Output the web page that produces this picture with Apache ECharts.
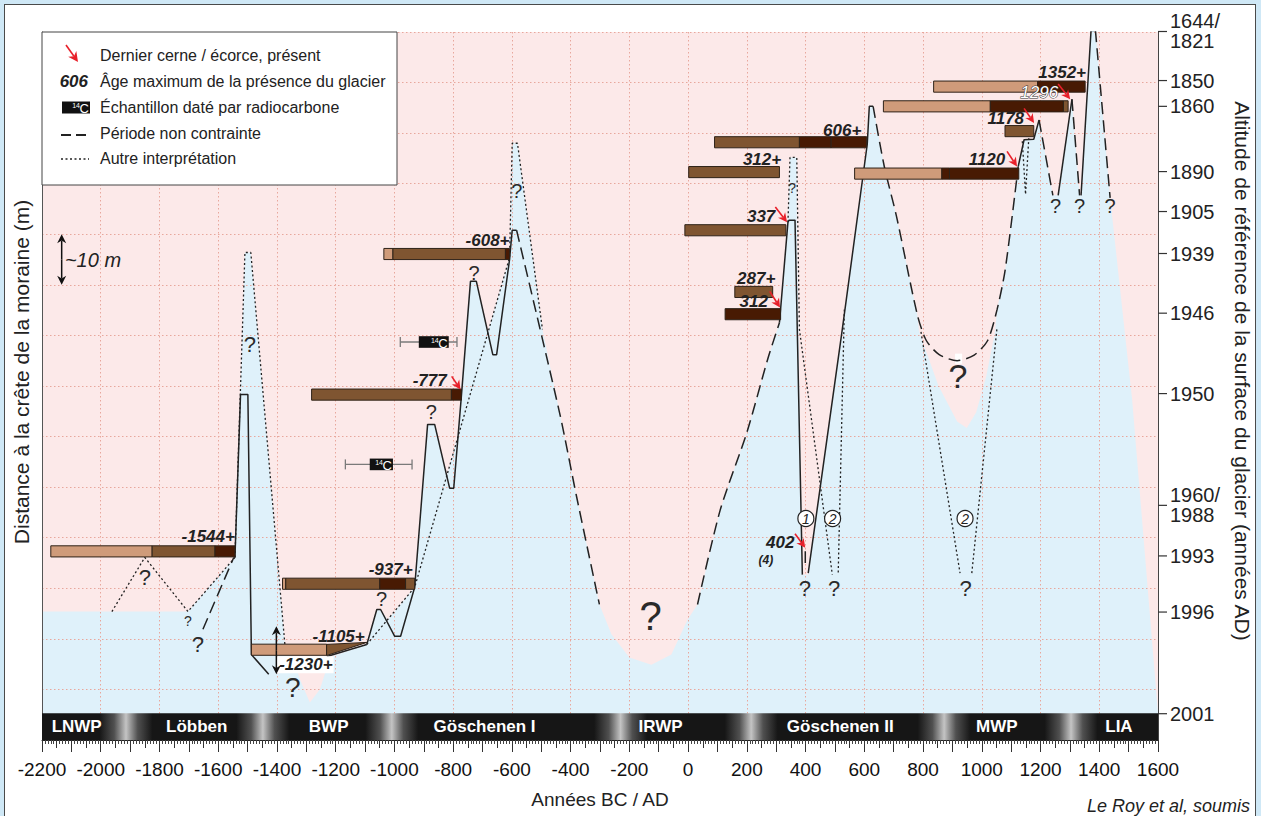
<!DOCTYPE html>
<html lang="fr">
<head>
<meta charset="utf-8">
<title>Fluctuations du glacier</title>
<script src="https://cdn.jsdelivr.net/npm/echarts@6/dist/echarts.min.js"></script>
<style>
  html, body { margin: 0; padding: 0; background: #cfe8f6; }
  #frame { position: absolute; left: 4px; top: 4px; width: 1252px; height: 830px; background: #fff; border: 1px solid #4a4a4a; box-sizing: border-box; }
  #chart { position: absolute; left: 0; top: 0; width: 1261px; height: 816px; }
</style>
</head>
<body>
<div id="frame"></div>
<div id="chart"></div>
<script>
// x = années BC/AD, y = mètres (distance relative à la crête de la moraine)

// bord supérieur de l'extension du glacier (zone bleue)
const extentEdge = [[-2200, 15.4], [-1962, 15.4], [-1703, 15.4], [-1543, 26.1], [-1509, 86.4], [-1489, 86.4],
  [-1373, 8.9], [-1346, 6.5], [-1322, 2.0], [-1288, -2.6], [-1254, 0], [-1227, 4.9], [-1213, 6.5], [-1094, 8.9],
  [-1060, 15.8], [-1047, 15.8], [-1023, 13.8], [-931, 20.2], [-887, 52.4], [-863, 52.4], [-822, 42.1], [-785, 50.0],
  [-774, 58.0], [-743, 80.7], [-721, 80.7], [-683, 70.4], [-608, 85.4], [-599, 108], [-581, 108], [-496, 71.2],
  [-438, 54.8], [-380, 38.2], [-302, 16.8], [-261, 10.9], [-200, 6.3], [-125, 4.9], [-57, 6.9], [-2, 13.8], [32, 16.8],
  [109, 35.4], [200, 50.8], [272, 65.5], [311, 72.5], [340, 92.4], [347, 105.2], [370, 105.2], [370, 92.7], [389, 22.7],
  [409, 22.7], [525, 71.2], [610, 107.8], [617, 115.3], [630, 115.3], [668, 103.4], [709, 93.7], [780, 74.2], [787, 70.7],
  [852, 60.1], [916, 53.0], [949, 51.7], [981, 54.8], [1015, 61.9], [1045, 70.7], [1052, 75.1], [1080, 83.1], [1124, 103.4],
  [1144, 108.7], [1177, 108.8], [1195, 112.6], [1242, 97.7], [1260, 97.7], [1307, 116.7], [1333, 97.7], [1338, 97.7],
  [1372, 130.3], [1387, 130.3], [1437, 97.2], [1512, 57.3], [1600, -4.7]];

const solidLines = [
  [[-1543, 26.1], [-1524, 58.3], [-1499, 58.3], [-1487, 6.9], [-1428, 3.0]],
  [[-1094, 8.9], [-1060, 15.8], [-1047, 15.8], [-999, 10.5], [-979, 10.5], [-931, 20.2], [-887, 52.4], [-863, 52.4],
    [-812, 39.8], [-798, 39.8], [-772, 58.0], [-741, 80.7], [-721, 80.7], [-665, 66.2], [-652, 66.2], [-608, 85.0],
    [-599, 90.8], [-584, 90.8]],
  [[-1230, 6.5], [-1094, 8.9]],
  [[311, 72.5], [340, 92.4], [344, 92.8], [364, 92.8], [389, 22.7]],
  [[399, 27.3], [399, 25.0]],
  [[409, 23.0], [525, 71.2], [610, 107.8], [617, 115.3], [630, 115.3]],
  [[1124, 103.4], [1144, 108.7], [1177, 108.8], [1195, 112.6]],
  [[1260, 97.7], [1307, 116.7]],
  [[1338, 97.7], [1372, 130.3], [1387, 130.3]]
];

const dashedLines = [
  [[-1652, 11.9], [-1547, 26.1]],
  [[-584, 90.8], [-438, 54.8], [-380, 38.2], [-302, 16.8]],
  [[32, 16.8], [109, 35.4], [200, 50.8], [272, 65.5], [311, 72.5]],
  [[630, 115.3], [668, 103.4], [709, 93.7], [780, 74.2], [811, 69.0], [855, 66.2], [916, 65.0], [974, 66.1],
    [1020, 69.0], [1052, 75.1], [1080, 83.1], [1124, 103.4]],
  [[1195, 112.6], [1242, 97.7]],
  [[1307, 116.7], [1333, 97.7]],
  [[1387, 130.3], [1437, 97.2]]
];

const dottedLines = [
  [[-1962, 15.4], [-1850, 26.1], [-1703, 15.4], [-1543, 26.1]],
  [[-1543, 26.1], [-1509, 86.4], [-1489, 86.4], [-1373, 8.9]],
  [[-1094, 8.9], [-931, 20.2], [-608, 85.4], [-599, 108], [-581, 108], [-496, 71.2]],
  [[340, 92.4], [347, 105.2], [370, 105.2], [379, 71.2], [491, 22.7]],
  [[532, 75.1], [511, 22.7]],
  [[793, 70.7], [926, 23.0]],
  [[966, 23.0], [1052, 71.6]],
  [[1138, 108.4], [1149, 97.9], [1160, 109.0]]
];

// échantillons dendro : [niveau, [[début, fin, teinte], ...]]  teinte 0 clair, 1 moyen, 2 foncé
const sampleBars = [
  [27.3, [[-2170, -1825, 0], [-1825, -1611, 1], [-1611, -1543, 2]]],
  [7.85, [[-1487, -1231, 0]]],
  [20.9, [[-1381, -1370, 0], [-1370, -1050, 1], [-1050, -962, 2], [-962, -931, 1]]],
  [58.3, [[-1282, -806, 1], [-806, -772, 2]]],
  [86.1, [[-1036, -1005, 0], [-1005, -622, 1], [-622, -608, 2]]],
  [108.2, [[90, 379, 1], [379, 487, 2], [487, 608, 2]]],
  [102.3, [[2, 311, 1]]],
  [90.8, [[-11, 333, 1]]],
  [78.6, [[159, 288, 1]]],
  [74.2, [[126, 315, 2]]],
  [119.2, [[836, 1190, 0], [1190, 1352, 2]]],
  [115.3, [[665, 1029, 0], [1029, 1278, 2], [1278, 1294, 1]]],
  [110.4, [[1079, 1177, 1]]],
  [102.0, [[567, 864, 0], [864, 890, 2], [890, 1126, 2]]]
];
const wedge = [[-1231, 8.9], [-1094, 9.3], [-1231, 6.7]];

// 14C : [boîte début, boîte fin, erreur début, erreur fin, niveau]
const radiocarbon = [[-917, -815, -980, -787, 68.7], [-1084, -1005, -1167, -940, 44.5]];

// [texte, année (bord droit), niveau, style]
const ageLabels = [
  ['-1544+', -1543, 30.3], ['-937+', -938, 23.7], ['-1105+', -1101, 10.5], ['-1230+', -1207, 4.9, 'boxed'],
  ['-777', -822, 61.1], ['-608+', -608, 88.8], ['606+', 590, 110.5], ['312+', 317, 104.7], ['337', 297, 93.5],
  ['287+', 297, 81.2], ['312', 272, 76.7], ['402', 362, 29.0], ['(4)', 290, 25.5, 'small'], ['1352+', 1355, 121.9],
  ['1296', 1260, 118.0, 'outline'], ['1178', 1144, 112.8], ['1120', 1080, 104.7]
];

// dernier cerne : [x0, y0, x1, y1]
const lastRingArrows = [[-805, 61.9, -775, 59.3], [297, 95.4, 337, 92.4], [278, 78.7, 313, 75.5], [364, 30.8, 399, 28.0],
  [1260, 119.7, 1301, 116.7], [1144, 114.9, 1178, 112.0], [1086, 106.4, 1120, 103.4]];

const questionMarks = [[-1850, 22.1, 22], [-1703, 13.5, 14], [-1669, 8.9, 22], [-1492, 68.2, 22], [-1346, 0.4, 28],
  [-1044, 17.8, 20], [-874, 54.8, 20], [-729, 82.3, 20], [-583, 98.5, 20], [-128, 14.6, 40], [354, 99.1, 14],
  [398, 20.0, 22], [497, 20.0, 22], [919, 61.9, 34], [945, 20.0, 22], [1251, 95.6, 20], [1333, 95.6, 20], [1437, 95.6, 20]];

const circledNums = [[401, 33.8, '1'], [492, 33.8, '2'], [943, 33.8, '2']];
const scaleArrows = [[-2133, 90, 80], [-1402, 12.5, 3.0]];
const scaleText = ['~10 m', -2122, 85];
const dashGap = [909, 933, 65.4];

const rightTicks = [['1644/\n1821', 130.1], ['1850', 120.4], ['1860', 115.3], ['1890', 102.4], ['1905', 94.5],
  ['1939', 86.2], ['1946', 74.4], ['1950', 58.5], ['1960/\n1988', 36.4], ['1993', 26.4], ['1996', 15.3], ['2001', -4.8]];

const periods = [['LNWP', -2082], ['Löbben', -1673], ['BWP', -1224], ['Göschenen I', -693], ['IRWP', -94],
  ['Göschenen II', 518], ['MWP', 1051], ['LIA', 1467]];
const periodEdges = [-1914, -1448, -1009, -230, 215, 872, 1304];

const X_MIN = -2200, X_MAX = 1600;
const FONT = '"Liberation Sans", Arial, Helvetica, sans-serif';
const INK = '#222';
const RED = '#e8202a';
const TONES = ['#cf9b7a', '#7f5531', '#481a03'];
const BAR_HALF = 1.1;

const chart = echarts.init(document.getElementById('chart'), null, { renderer: 'svg' });

function dart (p0, p1, color, head, half, lw) {
  const dx = p1[0] - p0[0], dy = p1[1] - p0[1];
  const L = Math.hypot(dx, dy), ux = dx / L, uy = dy / L;
  const bx = p1[0] - ux * head, by = p1[1] - uy * head;
  const nx = p1[0] - ux * head * 0.7, ny = p1[1] - uy * head * 0.7;
  return [
    { type: 'line', shape: { x1: p0[0], y1: p0[1], x2: nx, y2: ny }, style: { stroke: color, lineWidth: lw } },
    { type: 'polygon', shape: { points: [[p1[0], p1[1]], [bx - uy * half, by + ux * half], [nx, ny], [bx + uy * half, by - ux * half]] }, style: { fill: color } }
  ];
}

function lineGroup (lines, dash, width, smooth) {
  return lines.map(pts => ({
    type: 'line', data: pts, showSymbol: false, silent: true, z: 4, smooth: smooth,
    lineStyle: { color: INK, width: width, type: dash }
  }));
}

const barSegs = [];
sampleBars.forEach(([lvl, segs]) => segs.forEach(([x0, x1, tone]) => barSegs.push([x0, x1, lvl, tone])));

const series = [
  {
    type: 'line', data: extentEdge, showSymbol: false, silent: true, z: 1,
    lineStyle: { opacity: 0 },
    areaStyle: { color: '#dff1fa', opacity: 1, origin: 'start' }
  },
  {
    // bandeau des périodes climatiques
    type: 'custom', z: 3, silent: true, data: [[X_MIN, X_MAX]],
    renderItem (params, api) {
      const a = api.coord([X_MIN, -4.7]);
      const b = api.coord([X_MAX, -10]);
      const span = X_MAX - X_MIN;
      const stops = [{ offset: 0, color: '#161616' }];
      periodEdges.forEach(t => {
        [[-90, '#161616'], [-40, '#505050'], [0, '#c4c4c4'], [40, '#505050'], [90, '#161616']]
          .forEach(([d, c]) => stops.push({ offset: (t + d - X_MIN) / span, color: c }));
      });
      stops.push({ offset: 1, color: '#161616' });
      const children = [{
        type: 'rect', shape: { x: a[0], y: a[1], width: b[0] - a[0], height: b[1] - a[1] },
        style: { fill: new echarts.graphic.LinearGradient(0, 0, 1, 0, stops) }
      }];
      periods.forEach(([name, yr]) => {
        const p = api.coord([yr, -7.35]);
        children.push({ type: 'text', x: p[0], y: p[1], style: { text: name, fill: '#fff', font: 'bold 17px ' + FONT, align: 'center', verticalAlign: 'middle' } });
      });
      return { type: 'group', children };
    }
  },
  ...lineGroup(solidLines, 'solid', 1.5, false),
  ...lineGroup(dashedLines, [12, 6], 1.5, 0.25),
  ...lineGroup(dottedLines, [2, 2.5], 1.3, false),
  {
    type: 'custom', z: 4, silent: true, data: [dashGap],
    renderItem (params, api) {
      const a = api.coord([api.value(0), api.value(2) + 1]);
      const b = api.coord([api.value(1), api.value(2) - 1]);
      return { type: 'rect', shape: { x: a[0], y: a[1], width: b[0] - a[0], height: b[1] - a[1] }, style: { fill: '#fff' } };
    }
  },
  {
    type: 'custom', z: 5, silent: true, data: barSegs,
    renderItem (params, api) {
      const a = api.coord([api.value(0), api.value(2) + BAR_HALF]);
      const b = api.coord([api.value(1), api.value(2) - BAR_HALF]);
      return {
        type: 'rect', shape: { x: a[0], y: a[1], width: b[0] - a[0], height: b[1] - a[1] },
        style: { fill: TONES[api.value(3)], stroke: '#2e2218', lineWidth: 1 }
      };
    }
  },
  {
    type: 'custom', z: 5, silent: true, data: [0],
    renderItem (params, api) {
      const pts = wedge.map(p => api.coord(p));
      return { type: 'polygon', shape: { points: pts }, style: { fill: TONES[1], stroke: '#2e2218', lineWidth: 1 } };
    }
  },
  {
    type: 'custom', z: 5, silent: true, data: radiocarbon.map(d => [d[0], d[4]]),
    renderItem (params, api) {
      const [b0, b1, e0, e1, lvl] = radiocarbon[params.dataIndex];
      const a = api.coord([b0, lvl + 1.15]), b = api.coord([b1, lvl - 1.15]);
      const l = api.coord([e0, lvl]), r = api.coord([e1, lvl]);
      const cy = l[1];
      const grey = { stroke: '#7a7a7a', lineWidth: 1.3 };
      return {
        type: 'group', children: [
          { type: 'line', shape: { x1: l[0], y1: cy, x2: r[0], y2: cy }, style: grey },
          { type: 'line', shape: { x1: l[0], y1: cy - 5, x2: l[0], y2: cy + 5 }, style: grey },
          { type: 'line', shape: { x1: r[0], y1: cy - 5, x2: r[0], y2: cy + 5 }, style: grey },
          { type: 'rect', shape: { x: a[0], y: a[1], width: b[0] - a[0], height: b[1] - a[1] }, style: { fill: '#111' } },
          { type: 'text', x: b[0] - 1, y: cy + 1, style: { text: 'C', fill: '#fff', font: '13px ' + FONT, align: 'right', verticalAlign: 'middle' } },
          { type: 'text', x: b[0] - 10, y: cy - 2, style: { text: '14', fill: '#fff', font: '7px ' + FONT, align: 'right', verticalAlign: 'middle' } }
        ]
      };
    }
  },
  {
    type: 'custom', z: 7, silent: true, data: ageLabels.map(d => [d[1], d[2]]),
    renderItem (params, api) {
      const d = ageLabels[params.dataIndex];
      const p = api.coord([api.value(0), api.value(1)]);
      const style = { text: d[0], fill: INK, font: 'italic bold 17px ' + FONT, align: 'right', verticalAlign: 'middle' };
      if (d[3] === 'small') style.font = 'italic bold 12px ' + FONT;
      if (d[3] === 'boxed') { style.backgroundColor = '#fff'; style.padding = [0, 1, 0, 3]; }
      if (d[3] === 'outline') { style.fill = '#fff'; style.stroke = '#333'; style.lineWidth = 1; style.font = 'italic 17px ' + FONT; }
      return { type: 'text', x: p[0], y: p[1], style };
    }
  },
  {
    type: 'custom', z: 7, silent: true, data: lastRingArrows,
    renderItem (params, api) {
      const p0 = api.coord([api.value(0), api.value(1)]);
      const p1 = api.coord([api.value(2), api.value(3)]);
      return { type: 'group', children: dart(p0, p1, RED, 9, 4.5, 1.6) };
    }
  },
  {
    type: 'custom', z: 6, silent: true, data: questionMarks,
    renderItem (params, api) {
      const p = api.coord([api.value(0), api.value(1)]);
      return { type: 'text', x: p[0], y: p[1], style: { text: '?', fill: '#2a2a2a', font: api.value(2) + 'px ' + FONT, align: 'center', verticalAlign: 'middle' } };
    }
  },
  {
    type: 'custom', z: 7, silent: true, data: circledNums.map(d => [d[0], d[1]]),
    renderItem (params, api) {
      const p = api.coord([api.value(0), api.value(1)]);
      return {
        type: 'group', children: [
          { type: 'circle', shape: { cx: p[0], cy: p[1], r: 8 }, style: { fill: '#fff', stroke: '#222', lineWidth: 1.2 } },
          { type: 'text', x: p[0], y: p[1] + 0.5, style: { text: circledNums[params.dataIndex][2], fill: INK, font: 'italic 14px ' + FONT, align: 'center', verticalAlign: 'middle' } }
        ]
      };
    }
  },
  {
    type: 'custom', z: 7, silent: true, data: scaleArrows,
    renderItem (params, api) {
      const a = api.coord([api.value(0), api.value(1)]);
      const b = api.coord([api.value(0), api.value(2)]);
      const m = [a[0], (a[1] + b[1]) / 2];
      return { type: 'group', children: [...dart(m, a, '#111', 9, 4.5, 1.5), ...dart(m, b, '#111', 9, 4.5, 1.5)] };
    }
  },
  {
    type: 'custom', z: 7, silent: true, data: [[scaleText[1], scaleText[2]]],
    renderItem (params, api) {
      const p = api.coord([api.value(0), api.value(1)]);
      return { type: 'text', x: p[0], y: p[1], style: { text: scaleText[0], fill: INK, font: 'italic 20px ' + FONT, align: 'left', verticalAlign: 'middle' } };
    }
  },
  {
    // graduation de droite : altitude de référence (années AD)
    type: 'custom', z: 7, silent: true, data: rightTicks.map(t => [X_MAX, t[1]]),
    renderItem (params, api) {
      const p = api.coord([api.value(0), api.value(1)]);
      return {
        type: 'group', children: [
          { type: 'line', shape: { x1: p[0], y1: p[1], x2: p[0] + 9, y2: p[1] }, style: { stroke: '#333', lineWidth: 1.2 } },
          { type: 'text', x: p[0] + 12, y: p[1], style: { text: rightTicks[params.dataIndex][0], fill: INK, font: '20px ' + FONT, lineHeight: 20, align: 'left', verticalAlign: 'middle' } }
        ]
      };
    }
  }
];

const legendRows = [55, 81.5, 107.5, 133, 158];
const legendText = ['Dernier cerne / écorce, présent', 'Âge maximum de la présence du glacier',
  'Échantillon daté par radiocarbone', 'Période non contrainte', 'Autre interprétation'];

const graphic = [
  { type: 'rect', z: 20, shape: { x: 42, y: 32, width: 355, height: 153 }, style: { fill: '#fff', stroke: '#444', lineWidth: 1 } },
  ...legendText.map((t, i) => ({ type: 'text', z: 21, x: 100, y: legendRows[i], style: { text: t, fill: INK, font: '16px ' + FONT, verticalAlign: 'middle' } })),
  ...dart([66, 45], [78, 62], RED, 10, 5, 1.6).map(e => Object.assign(e, { z: 21 })),
  { type: 'text', z: 21, x: 88, y: legendRows[1], style: { text: '606', fill: INK, font: 'italic bold 17px ' + FONT, align: 'right', verticalAlign: 'middle' } },
  { type: 'rect', z: 21, shape: { x: 62, y: 101.5, width: 28, height: 12 }, style: { fill: '#111' } },
  { type: 'text', z: 22, x: 89, y: 108, style: { text: 'C', fill: '#fff', font: '13px ' + FONT, align: 'right', verticalAlign: 'middle' } },
  { type: 'text', z: 22, x: 80, y: 105, style: { text: '14', fill: '#fff', font: '7px ' + FONT, align: 'right', verticalAlign: 'middle' } },
  { type: 'line', z: 21, shape: { x1: 61, y1: 135, x2: 89, y2: 135 }, style: { stroke: INK, lineWidth: 2, lineDash: [10, 5] } },
  { type: 'line', z: 21, shape: { x1: 61, y1: 159, x2: 89, y2: 159 }, style: { stroke: INK, lineWidth: 1.6, lineDash: [2, 2.5] } },
  { type: 'text', z: 21, x: 1250, y: 806, style: { text: 'Le Roy et al, soumis', fill: INK, font: 'italic 18px ' + FONT, align: 'right', verticalAlign: 'middle' } }
];

const hiddenX = (interval, len) => ({
  type: 'value', min: X_MIN, max: X_MAX, interval, position: 'bottom', z: 2,
  axisLine: { show: false, onZero: false }, axisLabel: { show: false }, splitLine: { show: false },
  axisTick: { show: true, length: len, lineStyle: { color: '#333', width: 1 } }
});

chart.setOption({
  animation: false,
  backgroundColor: 'transparent',
  grid: { left: 42, right: 102, top: 32, bottom: 76, show: true, backgroundColor: '#fce9e9', borderWidth: 0 },
  xAxis: [
    {
      type: 'value', min: X_MIN, max: X_MAX, interval: 200, position: 'bottom', z: 2,
      name: 'Années BC / AD', nameLocation: 'middle', nameGap: 50,
      nameTextStyle: { fontFamily: FONT, fontSize: 19, color: INK },
      axisLine: { show: true, onZero: false, lineStyle: { color: '#222' } },
      axisTick: { show: true, length: 12, lineStyle: { color: '#333' } },
      minorTick: { show: true, splitNumber: 20, length: 4, lineStyle: { color: '#444' } },
      axisLabel: { margin: 20, fontFamily: FONT, fontSize: 19, color: '#111', formatter: v => String(v) },
      splitLine: { show: true, lineStyle: { color: '#e8a79c', type: [1.5, 2.5], width: 1 } }
    },
    hiddenX(100, 12),
    hiddenX(50, 8)
  ],
  yAxis: [
    {
      type: 'value', min: -10, max: 130, interval: 10, position: 'left', z: 2,
      name: 'Distance à la crête de la moraine (m)', nameLocation: 'middle', nameGap: 10,
      nameTextStyle: { fontFamily: FONT, fontSize: 21, color: INK, padding: [0, 0, 0, 28] },
      axisLine: { show: true, onZero: false, lineStyle: { color: '#555' } },
      axisTick: { show: false }, axisLabel: { show: false },
      splitLine: { show: true, lineStyle: { color: '#e8a79c', type: [1.5, 2.5], width: 1 } }
    },
    {
      type: 'value', min: -10, max: 130, position: 'right', z: 2,
      name: 'Altitude de référence de la surface du glacier (années AD)', nameLocation: 'middle', nameGap: 74, nameRotate: -90,
      nameTextStyle: { fontFamily: FONT, fontSize: 21, color: INK, padding: [0, 30, 0, 0] },
      axisLine: { show: true, onZero: false, lineStyle: { color: '#444' } },
      axisTick: { show: false }, axisLabel: { show: false }, splitLine: { show: false }
    }
  ],
  graphic,
  series
});
</script>
</body>
</html>
